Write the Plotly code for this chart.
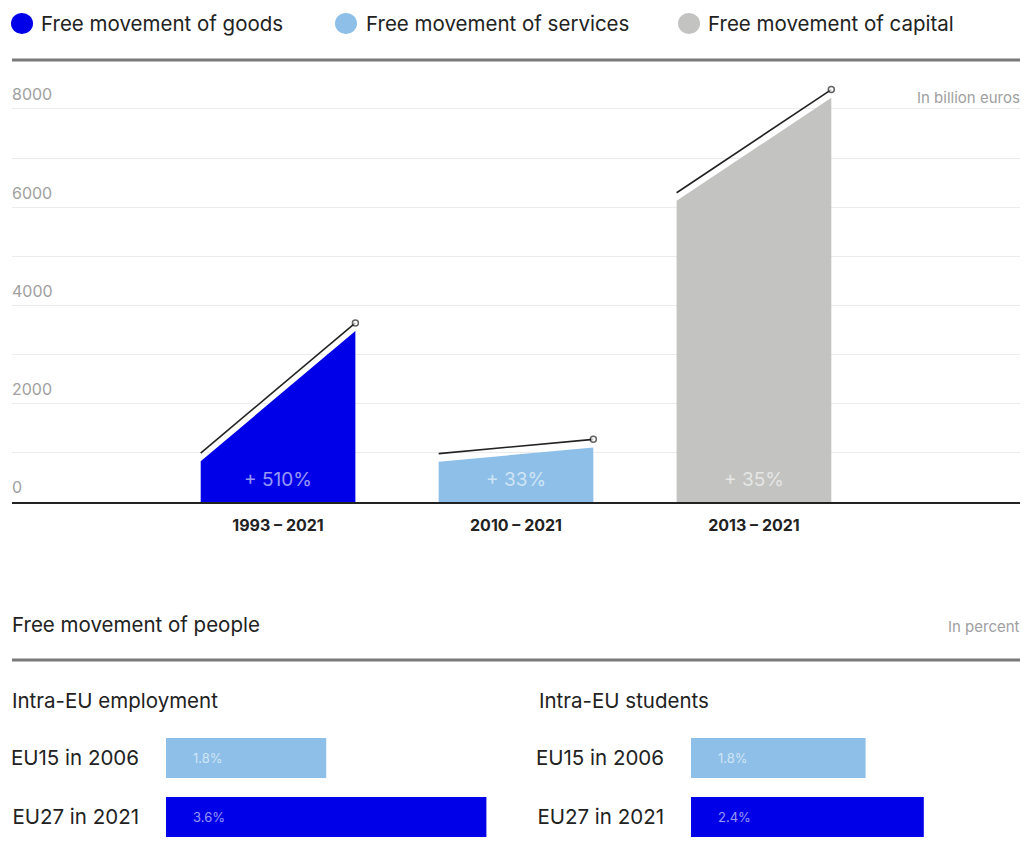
import plotly.graph_objects as go

# ---------------- data ----------------
legend_names = ["Free movement of goods", "Free movement of services", "Free movement of capital"]
periods = ["1993 – 2021", "2010 – 2021", "2013 – 2021"]
start_values = [830, 820, 6130]      # billion euros, at start of period
end_values = [3480, 1110, 8230]      # billion euros, at end of period
growth_labels = ["+ 510%", "+ 33%", "+ 35%"]
y_ticks = [0, 1000, 2000, 3000, 4000, 5000, 6000, 7000, 8000]
y_tick_text = ["0", "", "2000", "", "4000", "", "6000", "", "8000"]

people_rows = ["EU15 in 2006", "EU27 in 2021"]
employment_pct = [1.8, 3.6]
students_pct = [1.8, 2.4]

# ---------------- style ----------------
W, H = 1026, 858
FONT = "Inter"
DARK = "#222222"
GREY_TXT = "#a0a0a0"
colors = ["#0000E8", "#8DBFE8", "#C3C4C2"]
row_colors = ["#8DBFE8", "#0000E8"]
HALF_W = 0.325          # half width of each area block (x units)
LINE_GAP = 165          # vertical gap between area top and trend line (data units)
PAD = 2                 # annotation inner padding compensation (px)


def px(x):
    return x / W


def py(y):
    return 1 - y / H


fig = go.Figure()

# ---- top chart: area blocks ----
for i, (s, e, c) in enumerate(zip(start_values, end_values, colors)):
    xs = [i - HALF_W, i + HALF_W]
    fig.add_trace(go.Scatter(
        x=xs, y=[s, e], mode="lines", fill="tozeroy", fillcolor=c,
        line=dict(width=0, color=c), hoverinfo="skip", showlegend=False,
        xaxis="x", yaxis="y"))
    fig.add_trace(go.Scatter(
        x=xs, y=[s + LINE_GAP, e + LINE_GAP], mode="lines+markers",
        line=dict(width=1.6, color=DARK),
        marker=dict(size=[0, 6], color="white", line=dict(width=1.5, color=DARK)),
        hoverinfo="skip", showlegend=False, xaxis="x", yaxis="y"))
    fig.add_annotation(x=i, y=0, xref="x", yref="y", text=growth_labels[i],
                       showarrow=False, yanchor="middle", yshift=23,
                       font=dict(family=FONT, size=19, color="rgba(255,255,255,0.6)"))

# ---- bottom: people bars ----
fig.add_trace(go.Bar(
    x=employment_pct, y=people_rows, orientation="h",
    marker=dict(color=row_colors, line=dict(width=0)),
    hoverinfo="skip", showlegend=False, xaxis="x2", yaxis="y2"))
fig.add_trace(go.Bar(
    x=students_pct, y=people_rows, orientation="h",
    marker=dict(color=row_colors, line=dict(width=0)),
    hoverinfo="skip", showlegend=False, xaxis="x3", yaxis="y3"))

for xr, yr, vals in [("x2", "y2", employment_pct), ("x3", "y3", students_pct)]:
    for row, v in zip(people_rows, vals):
        fig.add_annotation(x=0, y=row, xref=xr, yref=yr, text=f"{v:.1f}%",
                           showarrow=False, xanchor="left", xshift=25,
                           font=dict(family=FONT, size=13, color="rgba(255,255,255,0.6)"))

# ---- legend (custom) ----
legend_pos = [(22, 41), (346, 366), (689, 708)]
shapes = []
for (cx, tx), name, c in zip(legend_pos, legend_names, colors):
    shapes.append(dict(type="circle", xref="paper", yref="paper",
                       x0=px(cx - 11), x1=px(cx + 11), y0=py(34), y1=py(13),
                       fillcolor=c, line=dict(width=0)))
    fig.add_annotation(x=px(tx - PAD), y=py(23), xref="paper", yref="paper", text=name,
                       showarrow=False, xanchor="left", yanchor="middle",
                       font=dict(family=FONT, size=20.5, color=DARK))

# separator lines
for yline in (60, 660):
    shapes.append(dict(type="line", xref="paper", yref="paper",
                       x0=px(12), x1=px(1020), y0=py(yline), y1=py(yline),
                       line=dict(color="#7a7a7a", width=3)))

texts = [
    dict(x=1020, y=97, text="In billion euros", anchor="right", size=15, color=GREY_TXT),
    dict(x=12, y=624, text="Free movement of people", anchor="left", size=20.5, color=DARK),
    dict(x=1020, y=626, text="In percent", anchor="right", size=15, color=GREY_TXT),
    dict(x=12, y=700, text="Intra-EU employment", anchor="left", size=20.5, color=DARK),
    dict(x=539, y=700, text="Intra-EU students", anchor="left", size=20.5, color=DARK),
]
for t in texts:
    xpos = t["x"] - PAD if t["anchor"] == "left" else t["x"] + PAD
    fig.add_annotation(x=px(xpos), y=py(t["y"]), xref="paper", yref="paper",
                       text=t["text"], showarrow=False, xanchor=t["anchor"],
                       yanchor="middle", font=dict(family=FONT, size=t["size"], color=t["color"]))

# ---------------- layout ----------------
row_axis = dict(type="category", range=[1.5, -0.5], domain=[py(846.5), py(728.5)],
                showgrid=False, zeroline=False, showline=False, ticks="",
                ticklabelstandoff=26, tickfont=dict(family=FONT, size=20.5, color=DARK))
emp_scale = 89.0   # px per percent
stu_scale = 97.0
emp_max, stu_max = 4.5, 3.35

fig.update_layout(
    width=W, height=H,
    margin=dict(l=0, r=0, t=0, b=0),
    paper_bgcolor="white", plot_bgcolor="white",
    font=dict(family=FONT, color=DARK),
    shapes=shapes,
    bargap=0.32,
    xaxis=dict(domain=[px(12), px(1020)], range=[-1.118, 3.118],
               tickvals=[0, 1, 2], ticktext=[f"<b>{p}</b>" for p in periods],
               tickfont=dict(family=FONT, size=16, color=DARK),
               ticks="outside", ticklen=8, tickcolor="rgba(0,0,0,0)",
               showgrid=False, zeroline=False,
               showline=True, linecolor=DARK, linewidth=2, anchor="y"),
    yaxis=dict(domain=[py(502), py(79.5)], range=[0, 8600],
               tickvals=y_ticks, ticktext=y_tick_text,
               ticklabelposition="inside top", ticklabelstandoff=-3, ticklabelshift=-3,
               tickfont=dict(family=FONT, size=16, color=GREY_TXT),
               showgrid=True, gridcolor="#ececec", gridwidth=1,
               zeroline=False, showline=False, ticks="", anchor="x"),
    xaxis2=dict(domain=[px(166), px(166 + emp_scale * emp_max)], range=[0, emp_max],
                visible=False, anchor="y2"),
    yaxis2=dict(anchor="x2", **row_axis),
    xaxis3=dict(domain=[px(691), px(691 + stu_scale * stu_max)], range=[0, stu_max],
                visible=False, anchor="y3"),
    yaxis3=dict(anchor="x3", **row_axis),
)

fig.write_html("out.html")
